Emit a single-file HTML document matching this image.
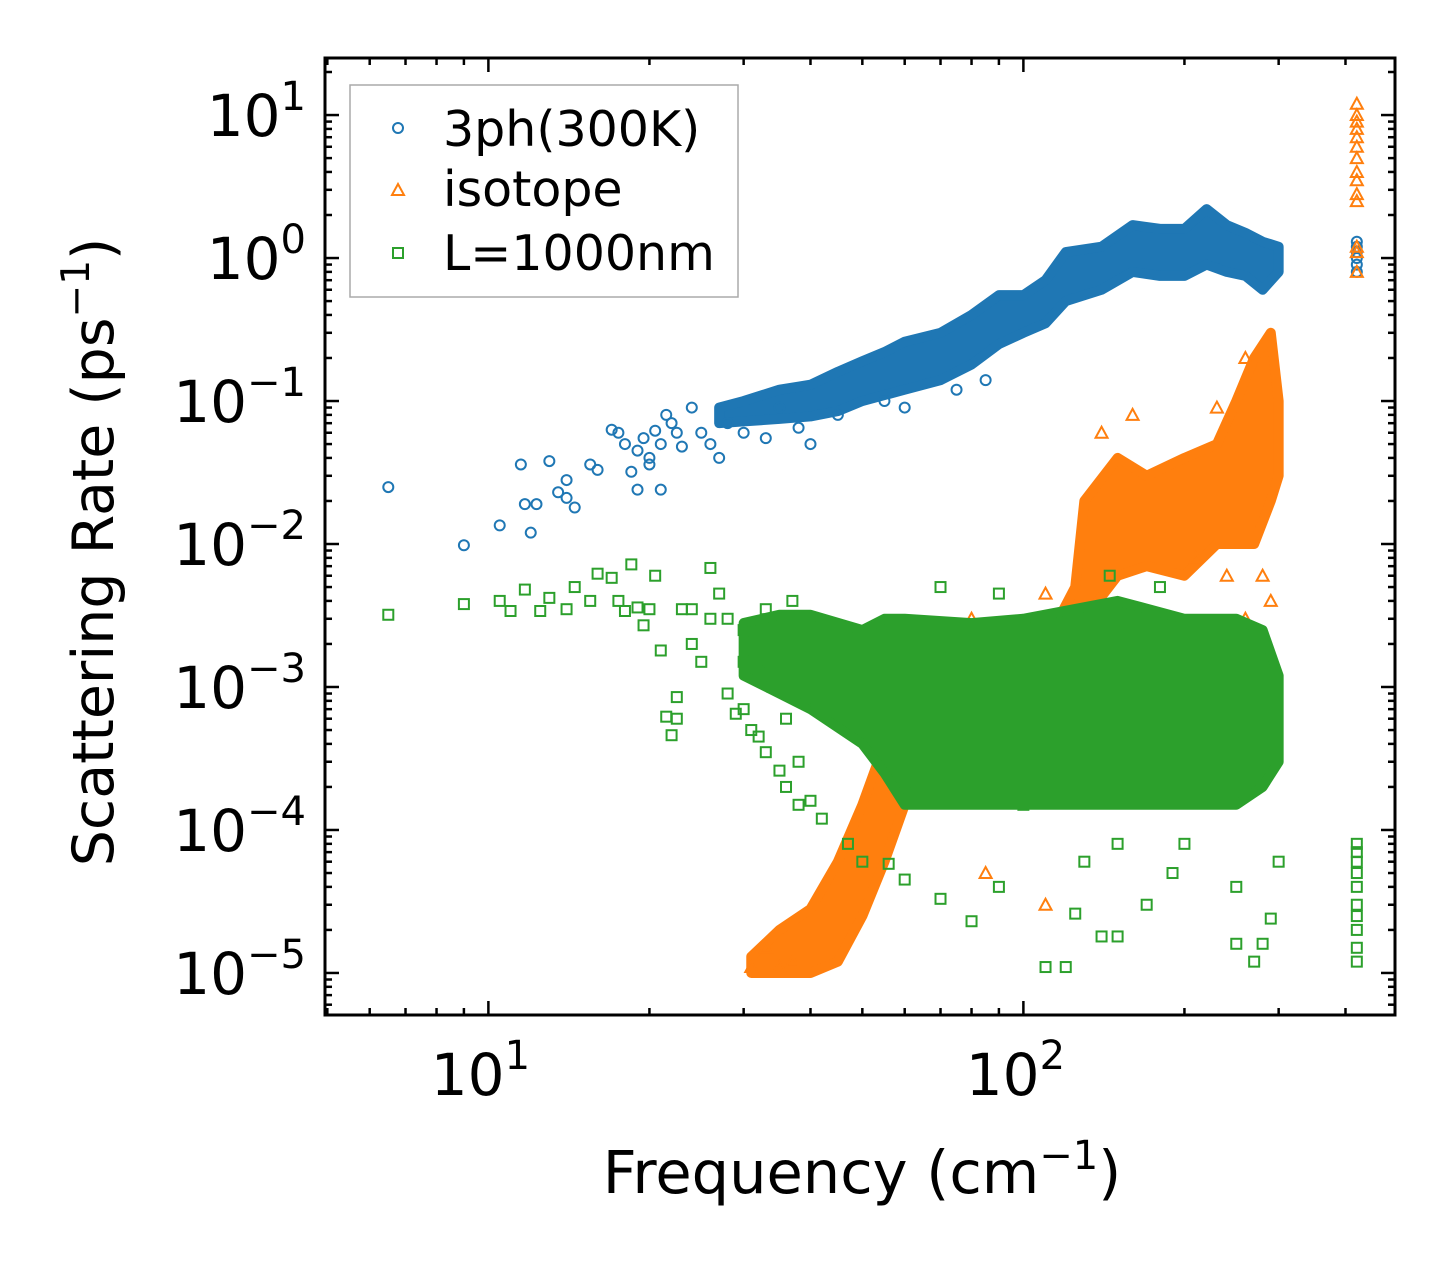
<!DOCTYPE html>
<html><head><meta charset="utf-8"><style>
html,body{margin:0;padding:0;background:#fff}
svg{display:block;font-family:"DejaVu Sans","Liberation Sans",sans-serif}
</style></head><body>
<svg id="chart" width="1455" height="1265" viewBox="0 0 1455 1265" xmlns="http://www.w3.org/2000/svg">
<rect width="1455" height="1265" fill="#fff"/>
<g id="marks"></g>
<g id="axes"></g>
<rect x="325" y="58" width="1070" height="957" fill="none" stroke="#000" stroke-width="3"/>
<g>
<rect x="350" y="85" width="388" height="212" fill="#fff" fill-opacity="0.85" stroke="#aaa" stroke-width="1.5"/>
<circle cx="398" cy="128" r="5" fill="none" stroke="#1f77b4" stroke-width="2"/>
<text x="443" y="146" font-size="49">3ph(300K)</text>
<path d="M398,184 L404,195 L392,195 Z" fill="none" stroke="#ff7f0e" stroke-width="2"/>
<text x="443" y="206" font-size="49">isotope</text>
<rect x="393" y="248" width="10" height="10" fill="none" stroke="#2ca02c" stroke-width="2"/>
<text x="443" y="270" font-size="49">L=1000nm</text>
</g>
<text x="862" y="1193" font-size="59" text-anchor="middle">Frequency (cm<tspan dy="-24" font-size="40">−1</tspan><tspan dy="24">)</tspan></text>
<text transform="translate(113,552) rotate(-90)" font-size="57" text-anchor="middle">Scattering Rate (ps<tspan dy="-24" font-size="39">−1</tspan><tspan dy="24">)</tspan></text>
</svg>
<script>
// ---- data ----
const blueSparse = [[6.5,0.025],[9,0.0098],[10.5,0.0135],[11.5,0.036],[11.7,0.019],[12,0.012],[12.3,0.019],[13,0.038],[13.5,0.023],[14,0.028],[14,0.021],[14.5,0.018],[15.5,0.036],[16,0.033],[17,0.063],[17.5,0.06],[18,0.05],[18.5,0.032],[19,0.024],[19,0.045],[19.5,0.055],[20,0.036],[20,0.04],[20.5,0.062],[21,0.024],[21,0.05],[21.5,0.08],[22,0.07],[22.5,0.06],[23,0.048],[24,0.09],[25,0.06],[26,0.05],[27,0.04],[28,0.07],[30,0.06],[33,0.055],[35,0.09],[38,0.065],[40,0.05],[45,0.08],[55,0.1],[60,0.09],[75,0.12],[85,0.14]];
const blueBandFreq = [27,30,35,40,45,50,55,60,70,80,90,100,110,120,140,160,180,200,220,240,260,280,300];
const blueBandLo = [0.07,0.072,0.075,0.078,0.085,0.1,0.11,0.12,0.14,0.18,0.25,0.3,0.35,0.5,0.6,0.8,0.75,0.75,0.9,0.8,0.75,0.6,0.8];
const blueBandHi = [0.09,0.1,0.12,0.13,0.16,0.19,0.22,0.26,0.3,0.4,0.55,0.55,0.7,1.1,1.2,1.7,1.6,1.6,2.2,1.7,1.5,1.3,1.2];
const blueCol = [[420,0.8],[420,0.9],[420,1.0],[420,1.1],[420,1.2],[420,1.3]];

const orBandFreq = [31,35,40,45,50,55,60,80,110,125,130,150,170,200,230,250,270,290,300];
const orBandLo = [1e-5,1e-5,1e-5,1.2e-5,2.5e-5,6e-5,1.5e-4,2e-4,2e-4,1e-3,3e-3,6e-3,7e-3,6e-3,1e-2,1e-2,1e-2,2e-2,3e-2];
const orBandHi = [1.3e-5,2e-5,2.8e-5,6e-5,1.5e-4,4e-4,5e-4,1e-3,2e-3,5e-3,2e-2,4e-2,3e-2,4e-2,5e-2,1e-1,2e-1,3e-1,1e-1];
const orSparse = [[31,1.1e-5],[33,1.5e-5],[35,1.1e-5],[37,1.2e-5],[110,4.5e-3],[105,2.5e-3],[75,1.5e-3],[80,3e-3],[120,1.2e-3],[140,6e-2],[160,8e-2],[230,9e-2],[260,2e-1],[290,4e-3],[280,6e-3],[270,2e-3],[260,3e-3],[240,6e-3],[210,8e-3],[85,5e-5],[110,3e-5],[420,3.5],[420,4],[420,5],[420,6],[420,7],[420,8],[420,9],[420,10],[420,12],[420,2.8],[420,2.5],[420,1.1],[420,0.8],[420,1.2]];

const grBandFreq = [30,35,40,50,55,60,80,100,150,200,250,280,300];
const grBandLo = [1.2e-3,9e-4,7e-4,4e-4,2.5e-4,1.5e-4,1.5e-4,1.5e-4,1.5e-4,1.5e-4,1.5e-4,2e-4,3e-4];
const grBandHi = [2.8e-3,3.2e-3,3.2e-3,2.5e-3,3e-3,3e-3,2.8e-3,3e-3,4e-3,3e-3,3e-3,2.5e-3,1.2e-3];
const grSparse = [[6.5,3.2e-3],[9,3.8e-3],[10.5,4e-3],[11,3.4e-3],[11.7,4.8e-3],[12.5,3.4e-3],[13,4.2e-3],[14,3.5e-3],[14.5,5e-3],[15.5,4e-3],[16,6.2e-3],[17,5.8e-3],[17.5,4e-3],[18,3.4e-3],[18.5,7.2e-3],[19,3.6e-3],[19.5,2.7e-3],[20,3.5e-3],[20.5,6e-3],[21,1.8e-3],[21.5,6.2e-4],[22,4.6e-4],[22.5,6e-4],[22.5,8.5e-4],[23,3.5e-3],[24,2e-3],[25,1.5e-3],[26,6.8e-3],[27,4.5e-3],[28,9e-4],[29,6.5e-4],[30,7e-4],[31,5e-4],[32,4.5e-4],[33,3.5e-4],[35,2.6e-4],[36,2e-4],[38,1.5e-4],[42,1.2e-4],[40,1.6e-4],[47,8e-5],[50,6e-5],[56,5.8e-5],[60,4.5e-5],[70,3.3e-5],[80,2.3e-5],[90,4e-5],[110,1.1e-5],[120,1.1e-5],[125,2.6e-5],[140,1.8e-5],[150,1.8e-5],[170,3e-5],[190,5e-5],[250,1.6e-5],[270,1.2e-5],[280,1.6e-5],[290,2.4e-5],[60,1.8e-4],[100,1.5e-4],[150,8e-5],[200,8e-5],[300,6e-5],[250,4e-5],[130,6e-5],[180,5e-3],[145,6e-3],[90,4.5e-3],[70,5e-3],[28,3e-3],[30,2.5e-3],[32,1.5e-3],[34,1e-3],[35,2e-3],[37,4e-3],[33,3.5e-3],[36,6e-4],[38,3e-4],[39,8e-4],[30,1.5e-3],[26,3e-3],[24,3.5e-3],[420,1.2e-5],[420,1.5e-5],[420,2e-5],[420,2.5e-5],[420,3e-5],[420,4e-5],[420,5e-5],[420,6e-5],[420,7e-5],[420,8e-5]];

const xTickVals = [10,100];
const xTickLabels = ["1","2"];
const yTickVals = [10,1,0.1,0.01,1e-3,1e-4,1e-5];
const yTickLabels = ["1","0","−1","−2","−3","−4","−5"];

// ---- axes ----
const X0=325,X1=1395,Y0=58,Y1=1015;
const xmin=Math.log10(4.95), xmax=Math.log10(495);
const ymin=-5.294, ymax=1.399;
const sx=v=>X0+(Math.log10(v)-xmin)/(xmax-xmin)*(X1-X0);
const sy=v=>Y1-(Math.log10(v)-ymin)/(ymax-ymin)*(Y1-Y0);
const NS="http://www.w3.org/2000/svg";
const marks=document.getElementById('marks');
const axes=document.getElementById('axes');
function mk(tag,attrs,parent){const e=document.createElementNS(NS,tag);for(const k in attrs)e.setAttribute(k,attrs[k]);parent.appendChild(e);return e;}

function band(f,lo,hi,color,name){
  let pts=f.map((v,i)=>sx(v)+','+sy(hi[i]));
  for(let i=f.length-1;i>=0;i--)pts.push(sx(f[i])+','+sy(lo[i]));
  const p=mk('polygon',{points:pts.join(' '),fill:color,stroke:color,'stroke-width':10,'stroke-linejoin':'round'},marks);
  
  
}
function circles(arr,color){arr.forEach(d=>{const c=mk('circle',{cx:sx(d[0]),cy:sy(d[1]),r:5,fill:'none',stroke:color,'stroke-width':2},marks);
  
  });}
function tris(arr,color){arr.forEach(d=>{const x=sx(d[0]),y=sy(d[1]);const t=mk('path',{d:`M${x},${y-6} L${x+6},${y+5} L${x-6},${y+5} Z`,fill:'none',stroke:color,'stroke-width':2},marks);
  
  });}
function squares(arr,color){arr.forEach(d=>{const s=mk('rect',{x:sx(d[0])-5,y:sy(d[1])-5,width:10,height:10,fill:'none',stroke:color,'stroke-width':2},marks);
  
  });}

band(blueBandFreq,blueBandLo,blueBandHi,'#1f77b4','band-3ph');
circles(blueSparse,'#1f77b4'); circles(blueCol,'#1f77b4');
band(orBandFreq,orBandLo,orBandHi,'#ff7f0e','band-isotope');
tris(orSparse,'#ff7f0e');
band(grBandFreq,grBandLo,grBandHi,'#2ca02c','band-boundary');
squares(grSparse,'#2ca02c');

// ticks
function tick(x1,y1,x2,y2,name){const l=mk('line',{x1,y1,x2,y2,stroke:'#000','stroke-width':2.5},axes);
  
  }
for(let d=0;d<=2;d++)for(let m=1;m<=9;m++){const v=m*Math.pow(10,d);if(v<4.95||v>495)continue;const x=sx(v);const L=(m===1)?14:7;
  tick(x,Y1,x,Y1-L,'x-tick');tick(x,Y0,x,Y0+L,'x-tick-top');}
for(let d=-6;d<=1;d++)for(let m=1;m<=9;m++){const v=m*Math.pow(10,d);const lv=Math.log10(v);if(lv<ymin||lv>ymax)continue;const y=sy(v);const L=(m===1)?14:7;
  tick(X0,y,X0+L,y,'y-tick');tick(X1,y,X1-L,y,'y-tick-right');}
xTickVals.forEach((v,i)=>{const t=mk('text',{x:sx(v)-8,y:1095,'font-size':58,'text-anchor':'middle'},axes);
  
  
  t.innerHTML='10<tspan dy="-26" font-size="40">'+xTickLabels[i]+'</tspan>';});
yTickVals.forEach((v,i)=>{const t=mk('text',{x:306,y:sy(v)+21,'font-size':58,'text-anchor':'end'},axes);
  
  
  t.innerHTML='10<tspan dy="-26" font-size="40">'+yTickLabels[i]+'</tspan>';});
</script>
</body></html>
